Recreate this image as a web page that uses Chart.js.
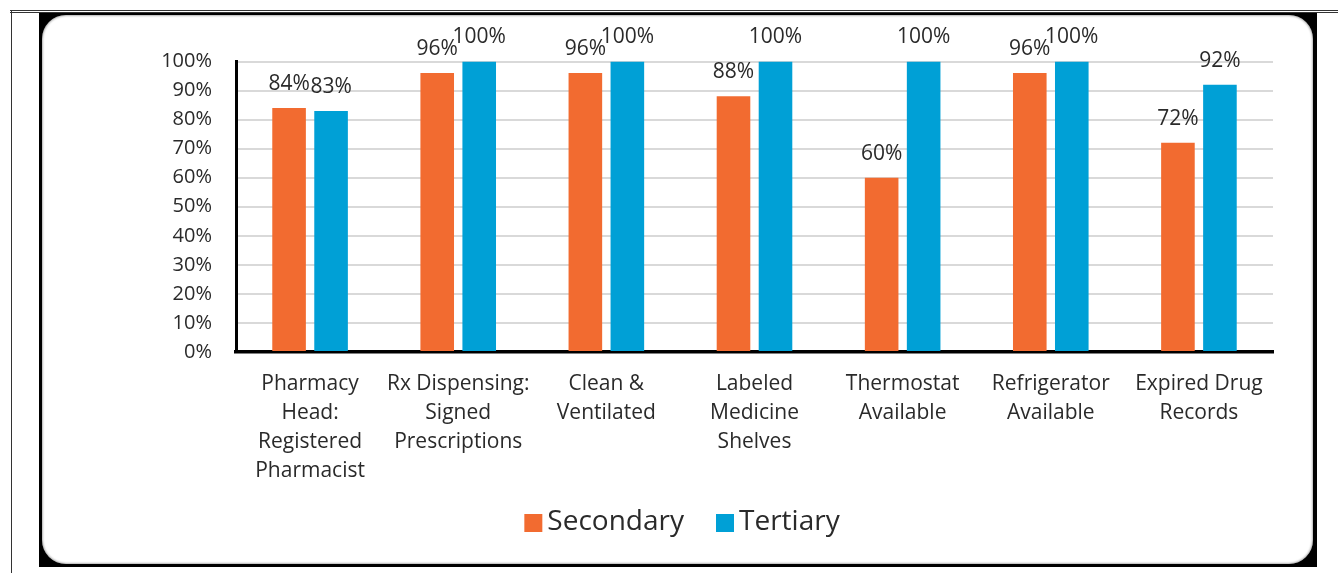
<!DOCTYPE html>
<html>
<head>
<meta charset="utf-8">
<script src="https://cdn.jsdelivr.net/npm/chart.js@4"></script>
<style>
  html, body { margin: 0; padding: 0; background: #fff; }
  body { width: 1338px; height: 573px; position: relative; overflow: hidden; }
  .rule-top1 { position: absolute; left: 10px; top: 10px; width: 1328px; height: 1px; background: #333; }
  .rule-top2 { position: absolute; left: 10px; top: 12px; width: 1328px; height: 1px; background: #333; }
  .rule-left { position: absolute; left: 11px; top: 10px; width: 1px; height: 563px; background: #333; }
  .frame { position: absolute; left: 39px; top: 13px; width: 1278px; height: 554px; background: #000; }
  .panel { position: absolute; left: 42px; top: 15px; width: 1271px; height: 549px; background: #fff;
           border-radius: 24px; box-shadow: inset 0 0 2px 1px rgba(0,0,0,0.3); }
  canvas { position: absolute; left: 0; top: 0; }
</style>
</head>
<body>
<div class="rule-top1"></div>
<div class="rule-top2"></div>
<div class="rule-left"></div>
<div class="frame"></div>
<div class="panel"></div>
<canvas id="chart" width="1338" height="573"></canvas>
<script>
// Pharmacy indicators by facility level (percent of facilities)
const categories = [
  ['Pharmacy', 'Head:', 'Registered', 'Pharmacist'],
  ['Rx Dispensing:', 'Signed', 'Prescriptions'],
  ['Clean &', 'Ventilated'],
  ['Labeled', 'Medicine', 'Shelves'],
  ['Thermostat', 'Available'],
  ['Refrigerator', 'Available'],
  ['Expired Drug', 'Records']
];
const secondaryValues = [84, 96, 96, 88, 60, 96, 72];
const tertiaryValues = [83, 100, 100, 100, 100, 100, 92];
const seriesNames = ['Secondary', 'Tertiary'];
const seriesColors = ['#F26B30', '#00A0D6'];

const FONT = "'Open Sans', 'Noto Sans', sans-serif";
const TEXT = '#2a2a2a';

// Value labels above each bar
const barValueLabels = {
  id: 'barValueLabels',
  afterDatasetsDraw(chart) {
    const ctx = chart.ctx;
    ctx.save();
    ctx.font = '21px ' + FONT;
    ctx.fillStyle = TEXT;
    ctx.textAlign = 'center';
    ctx.textBaseline = 'middle';
    chart.data.datasets.forEach((ds, i) => {
      const meta = chart.getDatasetMeta(i);
      meta.data.forEach((bar, j) => {
        ctx.fillText(ds.data[j] + '%', bar.x, bar.y - 24);
      });
    });
    ctx.restore();
  }
};

// Compact legend below the axis labels
const bottomLegend = {
  id: 'bottomLegend',
  afterDraw(chart) {
    const ctx = chart.ctx;
    const box = 18, gap = 5, spacing = 32, centerX = 682, midY = 522;
    ctx.save();
    ctx.font = '28px ' + FONT;
    ctx.textBaseline = 'middle';
    ctx.textAlign = 'left';
    const items = chart.data.datasets.map(ds => ({
      label: ds.label, color: ds.backgroundColor, w: ctx.measureText(ds.label).width
    }));
    let total = 0;
    items.forEach((it, k) => { total += box + gap + it.w + (k ? spacing : 0); });
    let x = centerX - total / 2;
    items.forEach((it, k) => {
      if (k) x += spacing;
      ctx.fillStyle = it.color;
      ctx.fillRect(x, midY - box / 2 + 1, box, box);
      x += box + gap;
      ctx.fillStyle = TEXT;
      ctx.fillText(it.label, x, midY);
      x += it.w;
    });
    ctx.restore();
  }
};

new Chart(document.getElementById('chart'), {
  type: 'bar',
  data: {
    labels: categories,
    datasets: [
      { label: seriesNames[0], data: secondaryValues, backgroundColor: seriesColors[0] },
      { label: seriesNames[1], data: tertiaryValues, backgroundColor: seriesColors[1] }
    ]
  },
  options: {
    responsive: false,
    animation: false,
    events: [],
    categoryPercentage: 0.567,
    barPercentage: 0.8,
    layout: { padding: { left: 0, right: 65, top: 61.5, bottom: 0 } },
    plugins: {
      legend: { display: false },
      tooltip: { enabled: false },
      title: { display: false }
    },
    scales: {
      x: {
        grid: { display: false, drawTicks: false },
        border: { display: true, color: '#000', width: 3.5 },
        ticks: {
          color: TEXT,
          padding: 17.5,
          maxRotation: 0,
          autoSkip: false,
          font: { family: FONT, size: 21, lineHeight: '29px' }
        },
        afterFit(scale) { scale.height = 221; }
      },
      y: {
        min: 0,
        max: 100,
        grid: {
          drawTicks: false,
          lineWidth: 2,
          color: c => (c.tick && c.tick.value === 0) ? 'rgba(0,0,0,0)' : '#d9d9d9'
        },
        border: { display: true, color: '#000', width: 3 },
        ticks: {
          stepSize: 10,
          color: TEXT,
          padding: 24,
          font: { family: FONT, size: 20 },
          callback: v => v + '%'
        },
        afterFit(scale) { scale.width = 236; }
      }
    }
  },
  plugins: [barValueLabels, bottomLegend]
});
</script>
</body>
</html>
